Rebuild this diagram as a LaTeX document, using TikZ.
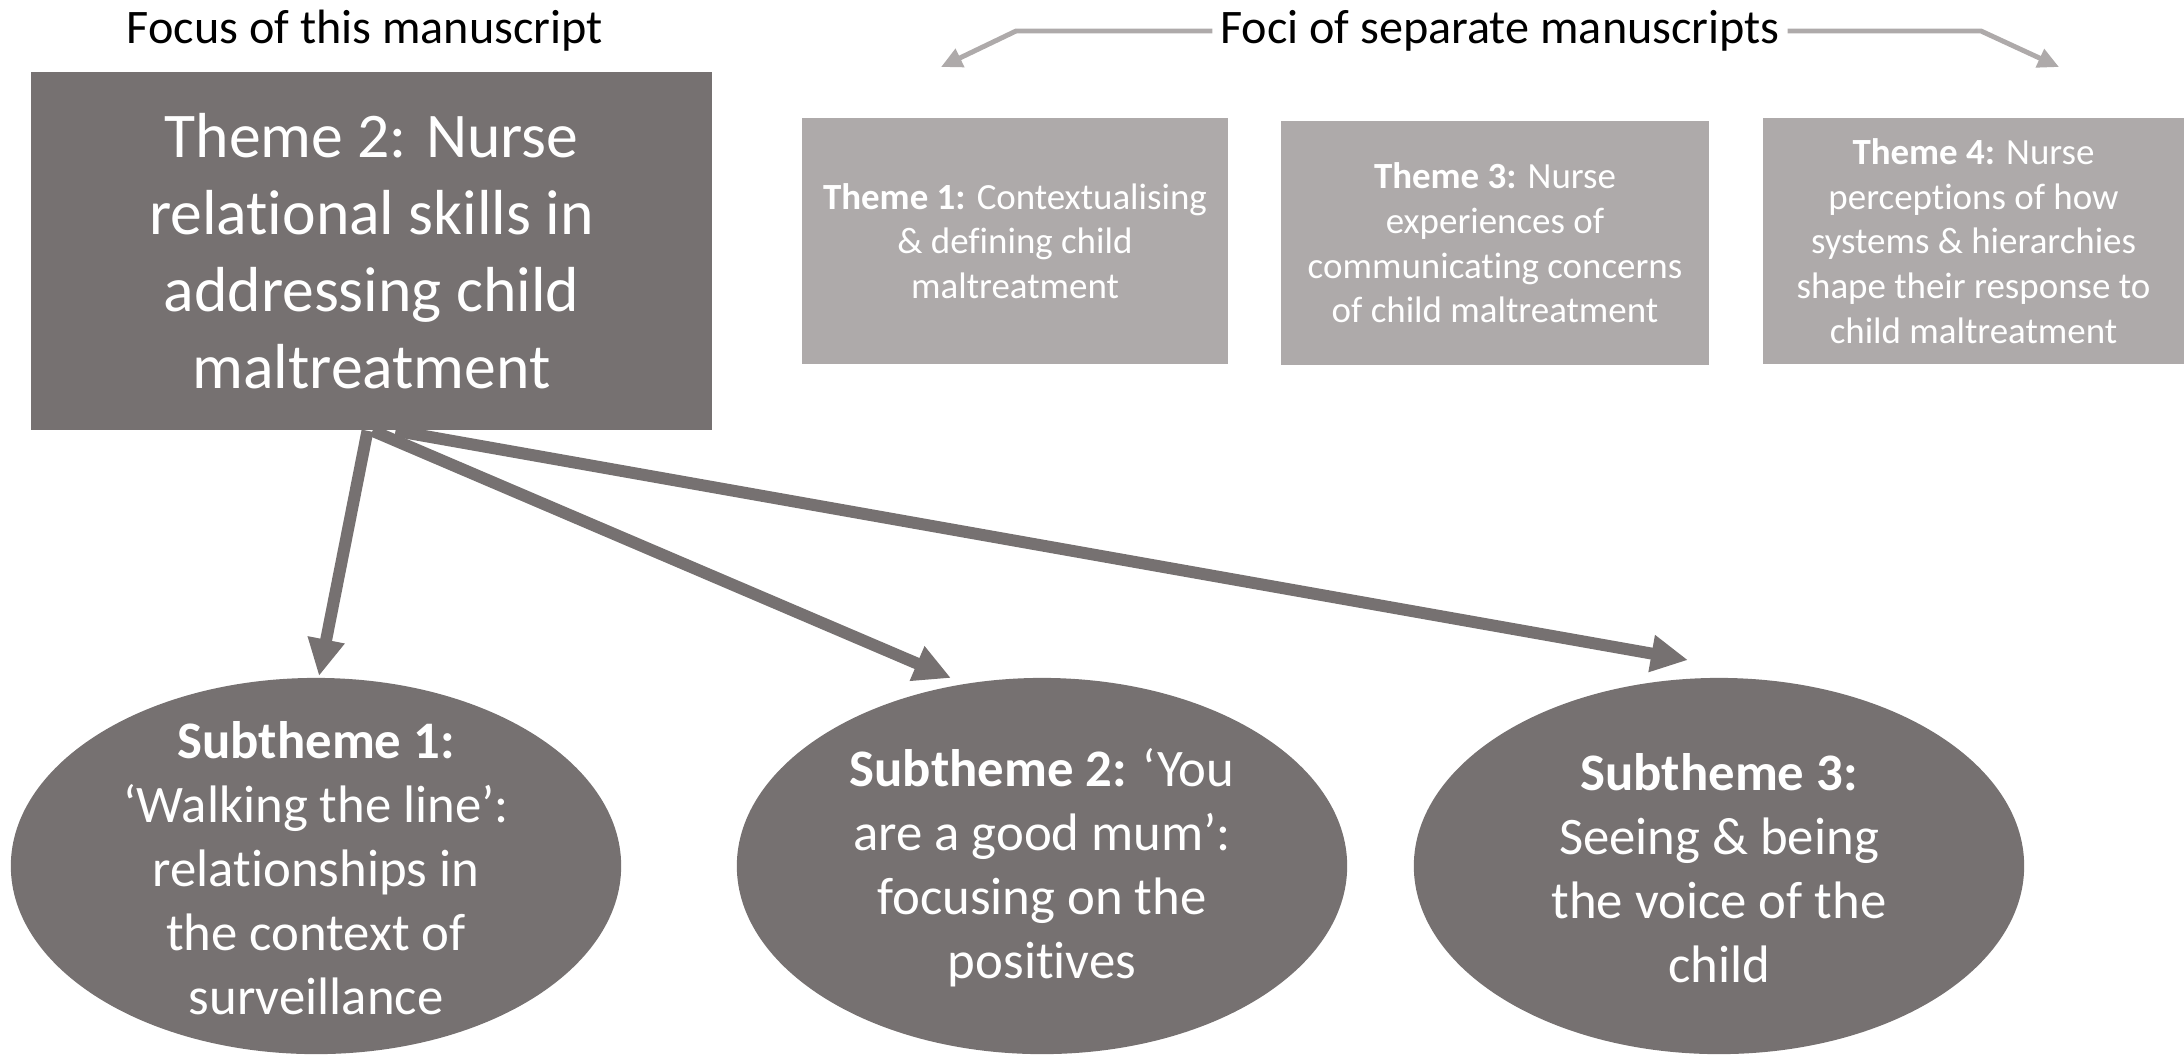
\documentclass[tikz,border=0pt]{standalone}
\usepackage{fontspec}
\setmainfont{Carlito}[Ligatures=NoCommon]
\usetikzlibrary{arrows.meta,shapes.geometric}
\definecolor{darkg}{HTML}{767171}
\definecolor{lightg}{HTML}{AEAAAA}
\tikzset{
  header/.style={font=\fontsize{13.7}{16}\selectfont, text=black, inner sep=2pt},
  mainbox/.style={fill=darkg, draw=none, text=white, align=center, inner sep=0pt, font=\fontsize{18.1}{21.9}\selectfont},
  themebox/.style={fill=lightg, draw=none, text=white, align=center, inner sep=0pt, font=\fontsize{10.5}{12.7}\selectfont},
  subell/.style={ellipse, fill=darkg, draw=none, inner sep=0pt, minimum width=6.1cm, minimum height=3.76cm},
  elltext/.style={text=white, align=center, inner sep=0pt, font=\fontsize{15}{18.2}\selectfont},
  bigarrow/.style={draw=darkg, line width=3.4pt, -{Triangle[length=10.5pt,width=10pt]}},
  smallarrow/.style={draw=lightg, line width=1.4pt, -{Triangle[length=6pt,width=5.5pt]}},
}
\begin{document}
\begin{tikzpicture}[x=0.01cm,y=-0.01cm]
\useasboundingbox (0,0) rectangle (2184,1056);
% header texts
\node[header] (focus) at (365,31) {Focus of this manuscript};
\node[header] (foci) at (1500,31) {Foci of separate manuscripts};
% ellipses
\node[subell] (e1) at (316,866) {};
\node[subell] (e2) at (1042,866) {};
\node[subell] (e3) at (1719,866) {};
\node[elltext] (t1) at (316,868) {\textbf{Subtheme 1:}\\‘Walking the line’:\\relationships in\\the context of\\surveillance};
\node[elltext] (t2) at (1042,868) {\textbf{Subtheme 2:} ‘You\\are a good mum’:\\focusing on the\\positives};
\node[elltext] (t3) at (1719,868) {\textbf{Subtheme 3:}\\Seeing \& being\\the voice of the\\child};
% main box
\node[mainbox, minimum width=6.81cm, minimum height=3.58cm] (m) at (371.5,251) {Theme 2: Nurse\\relational skills in\\addressing child\\maltreatment};
% arrows
\coordinate (a1) at (319,676);
\coordinate (a2) at (951,678);
\coordinate (a3) at (1688,660);
\draw[bigarrow] ([xshift=-0.04cm]m.south) -- (a1);
\draw[bigarrow] ([xshift=0.01cm]m.south) -- (a2);
\draw[bigarrow] ([xshift=0.24cm]m.south) -- (a3);
% theme boxes
\node[themebox, minimum width=4.26cm, minimum height=2.46cm] (b1) at (1015,241) {\textbf{Theme 1:} Contextualising\\\& defining child\\maltreatment};
\node[themebox, minimum width=4.28cm, minimum height=2.44cm] (b3) at (1495,243) {\textbf{Theme 3:} Nurse\\experiences of\\communicating concerns\\of child maltreatment};
\node[themebox, minimum width=4.21cm, minimum height=2.46cm] (b4) at (1973.5,241) {\textbf{Theme 4:} Nurse\\perceptions of how\\systems \& hierarchies\\shape their response to\\child maltreatment};
% bracket arrows
\coordinate (c1) at (1016,31);
\coordinate (c2) at (1981,31);
\coordinate (p1) at (941,67);
\coordinate (p2) at (2059,67);
\draw[smallarrow] (foci.west) -- (c1) -- (p1);
\draw[smallarrow] (foci.east) -- (c2) -- (p2);
\end{tikzpicture}
\end{document}
